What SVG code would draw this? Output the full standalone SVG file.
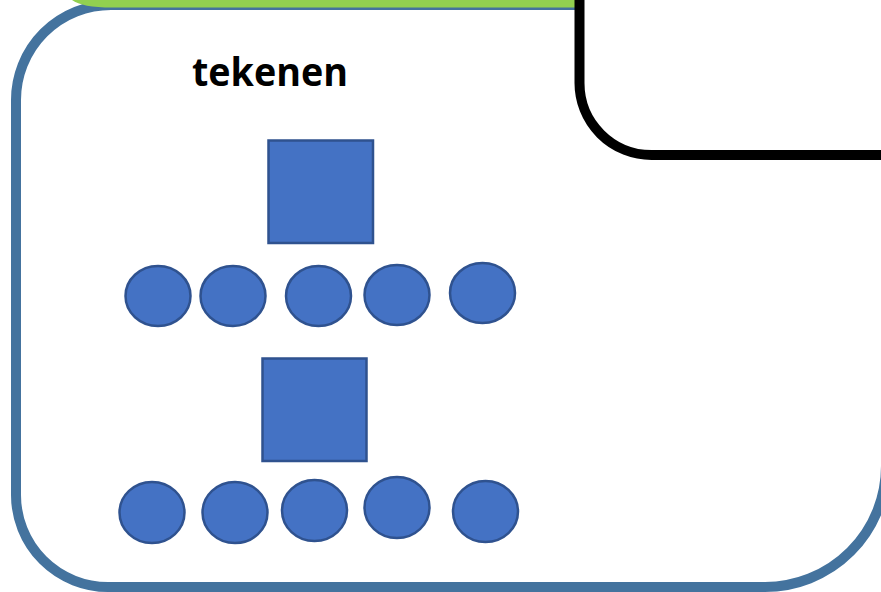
<svg xmlns="http://www.w3.org/2000/svg" width="881" height="592" viewBox="0 0 881 592">
<style>
.shape{fill:#4472C4;stroke:#2F528F;stroke-width:2.5}
.lbl{font-family:"Open Sans","Liberation Sans",sans-serif;font-weight:bold;font-size:40px;fill:#000}
</style>
<rect width="881" height="592" fill="#fff"/>
<g id="frame">
<path d="M16,100 A95,95 0 0 1 111,5 L886,5 L886,466 A121,121 0 0 1 765,587 L108,587 A92,92 0 0 1 16,495 Z" fill="#fff" stroke="#44739E" stroke-width="10"/>
</g>
<g id="green-bar">
<path d="M72,0 Q82,7.5 112,7.5 L576,7.5 L576,0 Z" fill="#92D050"/>
</g>
<g id="black-box">
<path d="M579.5,-20 L579.5,83 A72,72 0 0 0 651.5,155 L900,155 L900,-20 Z" fill="#fff" stroke="#000" stroke-width="10"/>
</g>
<g id="title">
<text class="lbl" x="270" y="85.5" text-anchor="middle" textLength="156" lengthAdjust="spacingAndGlyphs">tekenen</text>
</g>
<g id="square1"><rect class="shape" x="268.5" y="140.5" width="104.5" height="102.5"/></g>
<g id="row1">
<ellipse class="shape" cx="158" cy="296" rx="32.5" ry="30"/>
<ellipse class="shape" cx="233" cy="296" rx="32.5" ry="30"/>
<ellipse class="shape" cx="318.5" cy="296" rx="32.5" ry="30"/>
<ellipse class="shape" cx="397" cy="295" rx="32.5" ry="30"/>
<ellipse class="shape" cx="482.5" cy="293" rx="32.5" ry="30"/>
</g>
<g id="square2"><rect class="shape" x="262.5" y="358.5" width="104" height="102.5"/></g>
<g id="row2">
<ellipse class="shape" cx="152" cy="512.5" rx="32.5" ry="30.5"/>
<ellipse class="shape" cx="235" cy="512.5" rx="32.5" ry="30.5"/>
<ellipse class="shape" cx="314.5" cy="510.5" rx="32.5" ry="30.5"/>
<ellipse class="shape" cx="397" cy="507.5" rx="32.5" ry="30.5"/>
<ellipse class="shape" cx="485.5" cy="511.5" rx="32.5" ry="30.5"/>
</g>
<g id="connectors"/>
</svg>
